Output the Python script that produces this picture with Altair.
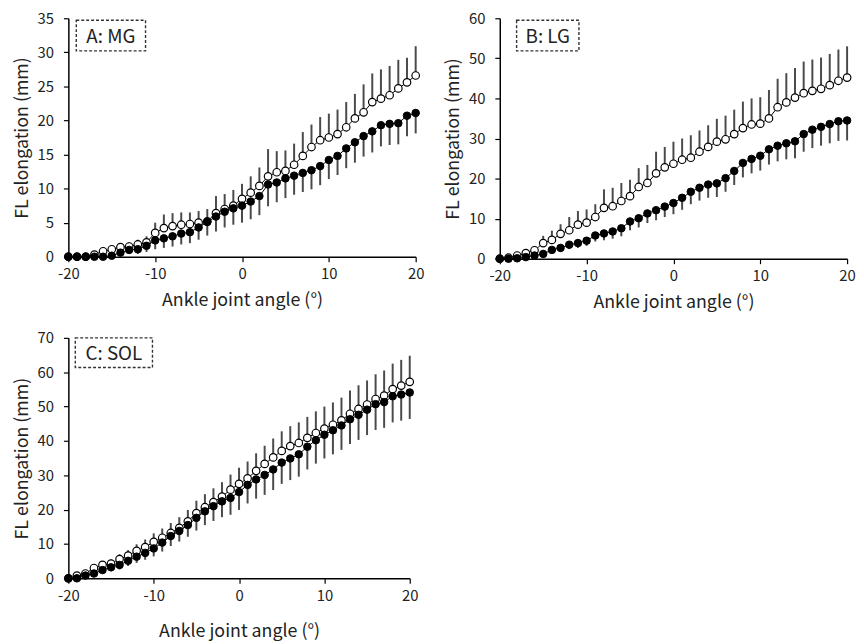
import altair as alt
import pandas as pd

angles = list(range(-20, 21))

# A: MG
mg_open_mean = [0, 0, 0, 0.3, 0.8, 1.1, 1.4, 1.5, 1.8, 2.1, 3.5, 4.2, 4.5, 4.7, 4.8, 5.0, 5.2, 6.4, 7.0, 7.5,
                8.5, 9.4, 10.4, 11.8, 12.4, 12.6, 13.5, 14.8, 16.1, 17.1, 17.5, 18.0, 19.0, 20.3, 21.2, 22.7,
                23.2, 23.7, 24.7, 25.6, 26.6]
mg_open_sd = [0, 0.1, 0.1, 0.2, 0.3, 0.4, 0.5, 0.6, 0.7, 0.9, 1.5, 2.0, 1.9, 1.8, 1.7, 1.7, 1.8, 2.5, 2.2, 2.3,
              2.2, 2.4, 2.7, 4.0, 3.1, 3.0, 3.1, 3.5, 3.3, 3.4, 3.5, 3.6, 3.7, 3.6, 4.1, 4.2,
              4.3, 4.3, 4.2, 3.6, 4.3]
mg_filled_mean = [0, 0, 0, 0, 0, 0.15, 0.6, 1.0, 1.1, 1.6, 2.4, 2.7, 3.0, 3.4, 3.6, 4.3, 5.1, 5.9, 6.6, 7.1,
                  7.5, 8.1, 8.9, 10.6, 10.9, 11.5, 11.9, 12.3, 12.7, 13.3, 14.2, 14.8, 15.9, 16.8, 17.7, 18.4,
                  19.3, 19.5, 19.6, 20.7, 21.1]
mg_filled_sd = [0, 0, 0, 0.1, 0.2, 0.3, 0.5, 0.6, 0.7, 0.9, 1.3, 1.4, 1.5, 1.6, 1.6, 1.8, 2.0, 2.2, 2.3, 2.4,
                2.5, 2.6, 2.8, 3.2, 2.9, 2.9, 2.8, 2.8, 2.8, 2.8, 2.8, 2.8, 2.9, 3.0, 3.0, 3.1,
                3.1, 3.1, 3.1, 3.0, 3.0]

# B: LG
lg_open_mean = [0, 0.25, 0.8, 1.4, 2.1, 3.9, 4.7, 6.2, 7.1, 8.5, 9.0, 10.4, 12.7, 13.1, 14.4, 15.6, 17.9, 18.9,
                21.3, 22.8, 23.7, 24.7, 25.2, 26.7, 27.9, 29.2, 29.8, 31.1, 32.6, 33.5, 33.7, 35.0, 37.8, 39.0,
                40.2, 41.3, 41.9, 42.4, 43.3, 44.4, 45.2]
lg_open_sd = [0, 0.2, 0.4, 0.6, 1.0, 1.8, 2.3, 2.4, 3.3, 3.4, 3.3, 3.2, 4.6, 4.6, 4.5, 4.1, 4.7, 4.5, 5.4, 5.1,
              5.5, 5.3, 5.6, 5.3, 5.4, 5.7, 5.9, 6.1, 6.6, 6.5, 6.6, 7.1, 7.1, 7.3, 7.4, 7.9, 7.8, 7.8, 7.8,
              7.8, 7.8]
lg_filled_mean = [0, 0, 0.1, 0.4, 0.8, 1.2, 2.2, 2.7, 3.5, 3.9, 4.5, 5.8, 6.3, 6.8, 7.6, 9.3, 10.1, 11.3, 12.1,
                  13.0, 13.9, 15.2, 16.7, 17.7, 18.5, 18.8, 20.1, 21.9, 23.9, 24.9, 25.7, 27.3, 28.2, 28.8,
                  29.3, 31.1, 32.2, 32.9, 33.6, 34.3, 34.5]
lg_filled_sd = [0, 0.2, 0.3, 0.4, 0.5, 0.6, 0.8, 1.0, 1.1, 1.2, 1.3, 1.5, 1.7, 1.8, 2.0, 2.2, 2.3, 2.4, 2.5, 2.6,
                2.8, 3.0, 3.1, 3.2, 3.3, 3.4, 3.4, 3.5, 3.6, 3.6, 3.7, 3.8, 3.9, 4.0, 4.2, 4.4, 4.6, 4.7,
                4.8, 4.9, 5.0]

# C: SOL
sol_open_mean = [0, 0.8, 1.4, 3.0, 3.9, 4.3, 5.6, 6.6, 8.0, 9.1, 10.6, 11.8, 13.2, 14.7, 16.6, 19.0, 20.7,
                 22.2, 23.8, 25.8, 27.5, 29.1, 31.3, 33.3, 35.2, 37.1, 38.5, 39.4, 40.9, 42.3, 43.6, 44.7,
                 46.0, 47.9, 49.3, 50.6, 52.2, 53.2, 55.1, 56.1, 57.2]
sol_open_sd = [0, 0.3, 0.5, 0.8, 1.0, 1.2, 1.4, 1.6, 1.9, 2.2, 2.5, 2.7, 2.9, 3.1, 3.3, 3.6, 3.8, 4.0, 4.2,
               4.4, 4.7, 4.9, 5.1, 5.3, 5.5, 5.7, 5.8, 6.0, 6.1, 6.3, 6.4, 6.5, 6.6, 6.8, 6.9, 7.0, 7.2,
               7.3, 7.4, 7.5, 7.6]
sol_filled_mean = [0, 0, 0.8, 1.4, 2.4, 3.2, 3.9, 5.1, 6.3, 7.4, 8.7, 10.4, 12.3, 13.8, 15.5, 17.6, 19.5,
                   21.0, 22.4, 23.4, 25.1, 27.2, 28.8, 30.1, 31.7, 33.7, 34.9, 36.1, 38.3, 40.2, 41.8, 43.1,
                   44.5, 46.3, 47.6, 49.1, 50.7, 51.3, 53.0, 53.5, 54.1]
sol_filled_sd = [0, 0.2, 0.4, 0.7, 0.9, 1.1, 1.3, 1.5, 1.8, 2.0, 2.3, 2.6, 2.9, 3.1, 3.4, 3.7, 4.0, 4.3,
                 4.6, 4.9, 5.2, 5.4, 5.6, 5.8, 6.0, 6.2, 6.3, 6.5, 6.6, 6.8, 6.9, 7.0, 7.1, 7.2, 7.3, 7.4,
                 7.5, 7.5, 7.6, 7.6, 7.7]

x_ticks = [-20, -10, 0, 10, 20]

FONT = "Noto Sans CJK JP"
X_TITLE = "Ankle joint angle (°)"
Y_TITLE = "FL elongation (mm)"


def panel(label, om, osd, fm, fsd, ymax, ystep, w, h, box, x_title_pad):
    rows = []
    for a, m, s in zip(angles, om, osd):
        rows.append({"x": a, "m": m, "lo": m, "hi": m + s, "s": "open"})
    for a, m, s in zip(angles, fm, fsd):
        rows.append({"x": a, "m": m, "lo": max(0, m - s), "hi": m, "s": "filled"})
    df = pd.DataFrame(rows)

    xs = alt.Scale(domain=[-20, 20], nice=False, zero=False)
    ys = alt.Scale(domain=[0, ymax], nice=False)
    xax = alt.Axis(values=x_ticks, title=X_TITLE, titlePadding=x_title_pad,
                   labelExpr="'' + datum.value", labelFlush=False)
    yax = alt.Axis(values=list(range(0, ymax + 1, ystep)), title=Y_TITLE, labelFlush=False)

    def X():
        return alt.X("x:Q", scale=xs, axis=xax)

    def Y(field):
        return alt.Y(field, type="quantitative", scale=ys, axis=yax)

    base = alt.Chart(df)
    bars = base.mark_rule(color="#4a4a4a", strokeWidth=2).encode(x=X(), y=Y("lo"), y2="hi:Q")
    lines = base.mark_line(color="black", strokeWidth=1).encode(x=X(), y=Y("m"), detail="s:N")
    open_pts = base.transform_filter(alt.datum.s == "open").mark_point(
        shape="circle", filled=True, fill="white", stroke="black", strokeWidth=1.2, size=58, opacity=1
    ).encode(x=X(), y=Y("m"))
    filled_pts = base.transform_filter(alt.datum.s == "filled").mark_point(
        shape="circle", filled=True, fill="black", stroke="black", strokeWidth=1, size=58, opacity=1
    ).encode(x=X(), y=Y("m"))

    bx0, bx1, by0, by1 = box
    one = pd.DataFrame({"t": [label]})
    rect = alt.Chart(one).mark_rect(
        fill="white", fillOpacity=0, stroke="#333", strokeDash=[3, 2], strokeWidth=1.4
    ).encode(x=alt.value(bx0), x2=alt.value(bx1), y=alt.value(by0), y2=alt.value(by1))
    txt = alt.Chart(one).mark_text(
        font=FONT, fontSize=19, color="#222", align="center", baseline="middle"
    ).encode(text="t:N", x=alt.value((bx0 + bx1) / 2), y=alt.value((by0 + by1) / 2 + 1))

    return alt.layer(bars, lines, open_pts, filled_pts, rect, txt).properties(width=w, height=h)


A = panel("A: MG", mg_open_mean, mg_open_sd, mg_filled_mean, mg_filled_sd, 35, 5, 351, 241,
          (8, 78, 2, 33), 10)
B = panel("B: LG", lg_open_mean, lg_open_sd, lg_filled_mean, lg_filled_sd, 60, 10, 351, 243,
          (17, 80, 2, 33), 10)
C = panel("C: SOL", sol_open_mean, sol_open_sd, sol_filled_mean, sol_filled_sd, 70, 10, 345, 243,
          (7, 85, 0, 30), 20)

chart = alt.vconcat(
    alt.hconcat(A, B, spacing=20).resolve_scale(x="independent", y="independent"),
    C,
    spacing=20,
).resolve_scale(x="independent", y="independent").properties(
    padding={"left": 5, "top": 0, "right": 0, "bottom": 0}
).configure_view(stroke=None).configure_axis(
    grid=False,
    domainColor="black",
    domainWidth=1.5,
    tickColor="black",
    tickWidth=1.2,
    tickSize=5,
    labelFont=FONT,
    labelFontSize=15,
    labelColor="#222",
    labelPadding=5,
    titleFont=FONT,
    titleFontSize=18,
    titleFontWeight="normal",
    titleColor="#222",
).configure_axisY(titlePadding=6, labelPadding=10, titleFontSize=18)

chart.save("out.html", embed_options={"renderer": "svg", "actions": False})
